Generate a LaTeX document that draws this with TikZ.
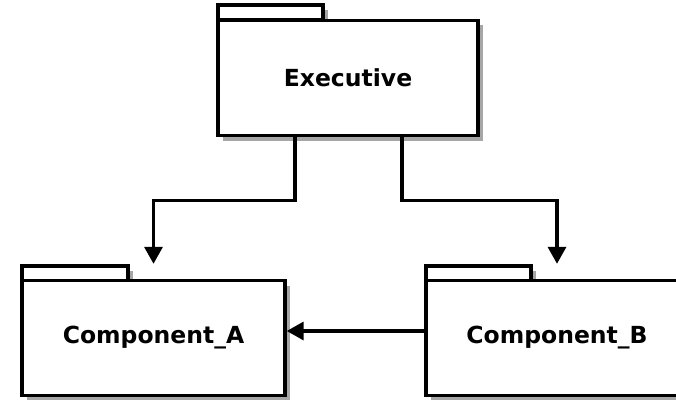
\documentclass[tikz,border=0pt]{standalone}
\usepackage{fontspec}
\setmainfont{DejaVu Sans}
\usetikzlibrary{arrows.meta}
\tikzset{
  pkg/.style={draw=black, fill=white, line width=3.4pt, minimum width=260pt, minimum height=115pt, inner sep=0pt,
    font=\bfseries\fontsize{23.5}{27}\selectfont},
  tab/.style={draw=black, fill=white, line width=3.4pt},
  shade/.style={fill=black!35, draw=none},
  arr/.style={draw=black, line width=3.4pt, -{Triangle[width=18pt,length=17pt]}}
}
\begin{document}
\begin{tikzpicture}[x=1pt,y=-1pt]
\useasboundingbox (0,0) rectangle (676,402);
\fill[white] (0,0) rectangle (676,402);
% shadows
\fill[shade] (223,10) rectangle (328,25);
\fill[shade] (223,25) rectangle (483,141);
\fill[shade] (27,271) rectangle (133,286);
\fill[shade] (27,286) rectangle (290,400);
\fill[shade] (431,271) rectangle (536,286);
\fill[shade] (431,286) rectangle (693,400);
% tabs
\draw[tab] (218,5) rectangle (323,20);
\draw[tab] (22,266) rectangle (128,281);
\draw[tab] (426,266) rectangle (531,281);
% packages
\node[pkg] (exec) at (348,78) {Executive};
\node[pkg, minimum width=263pt] (compA) at (153.5,338) {Component\_A};
\node[pkg, minimum width=262pt] (compB) at (557,338) {Component\_B};
% connectors
\draw[arr] ([xshift=-53pt]exec.south) |- (153.5,200.5) -- ([yshift=15pt]compA.north);
\draw[arr] ([xshift=54pt]exec.south) |- (557,200.5) -- ([yshift=15pt]compB.north);
\draw[arr] ([yshift=7pt]compB.west) -- ([yshift=7pt]compA.east);
\end{tikzpicture}
\end{document}
